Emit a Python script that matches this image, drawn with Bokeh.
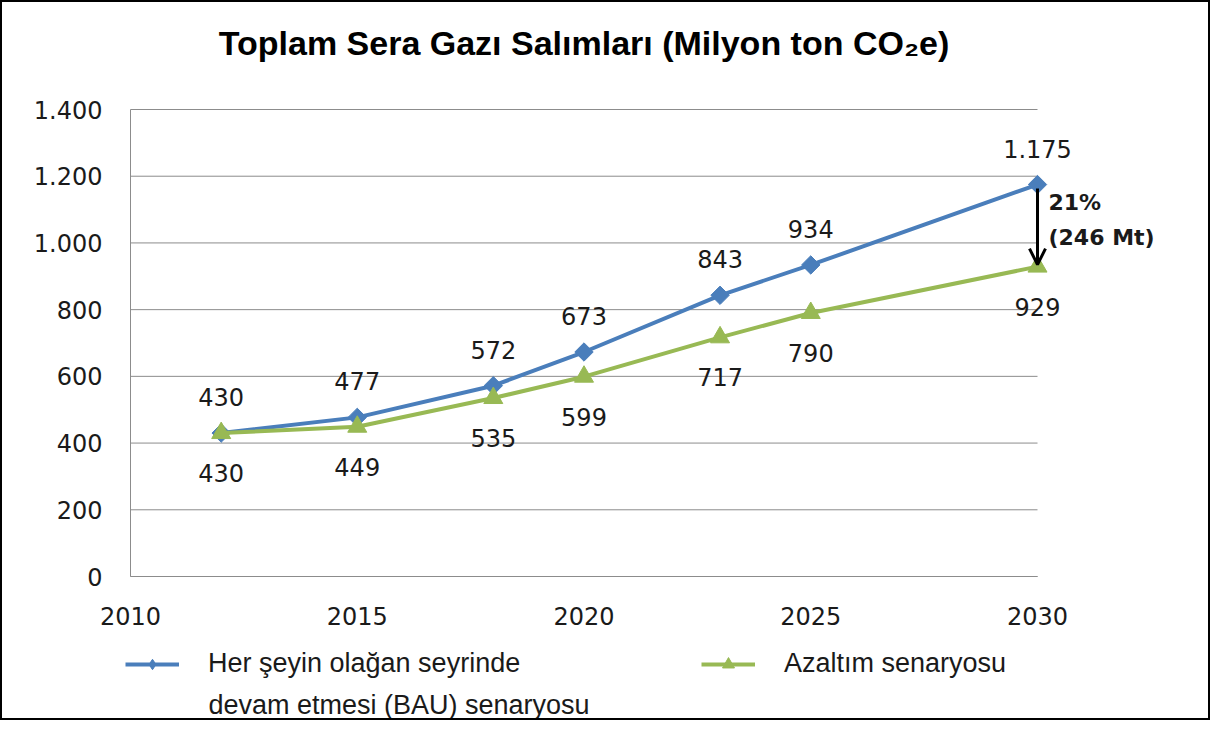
import numpy as np
from bokeh.plotting import figure
from bokeh.models import (ColumnDataSource, LabelSet, Label, Legend, LegendItem,
                          FixedTicker, Arrow, OpenHead, Range1d)
from bokeh.core.properties import value
from bokeh.embed import file_html
from bokeh.resources import INLINE

# ---- data ----
years = [2012, 2015, 2018, 2020, 2023, 2025, 2030]
bau = [430, 477, 572, 673, 843, 934, 1175]
azaltim = [430, 449, 535, 599, 717, 790, 929]
bau_labels = ["430", "477", "572", "673", "843", "934", "1.175"]
azaltim_labels = ["430", "449", "535", "599", "717", "790", "929"]
x_ticks = [2010, 2015, 2020, 2025, 2030]
x_tick_labels = ["2010", "2015", "2020", "2025", "2030"]
y_ticks = [0, 200, 400, 600, 800, 1000, 1200, 1400]
y_tick_labels = ["0", "200", "400", "600", "800", "1.000", "1.200", "1.400"]
series_names = ["Her şeyin olağan seyrinde", "devam etmesi (BAU) senaryosu", "Azaltım senaryosu"]
title_text = "Toplam Sera Gazı Salımları (Milyon ton CO₂e)"
diff_pct = "21%"
diff_mt = "(246 Mt)"

BLUE = "#4A7EBB"
GREEN = "#98B954"
GRID = "#8C8C8C"
TXT = "#1a1a1a"
NUM_FONT = "DejaVu Sans"
TXT_FONT = "Liberation Sans"

src = ColumnDataSource(dict(year=years, bau=bau, az=azaltim,
                            bau_lbl=bau_labels, az_lbl=azaltim_labels))

# The frame covers the whole canvas (so no annotation is clipped);
# the plot area proper is 2010..2030 x 0..1400, drawn with bounded axes.
W, H = 1210, 720
PX_PER_YEAR = 907 / 20.0
PX_PER_UNIT = 467 / 1400.0
PA_LEFT, PA_TOP = 128, 107          # plot area offset inside canvas
PA_RIGHT = PA_LEFT + 907
PA_BOTTOM = PA_TOP + 467
x_start = x_ticks[0] - PA_LEFT / PX_PER_YEAR
x_end = x_ticks[-1] + (W - PA_RIGHT) / PX_PER_YEAR
y_end = y_ticks[-1] + PA_TOP / PX_PER_UNIT
y_start = y_ticks[0] - (H - PA_BOTTOM) / PX_PER_UNIT

p = figure(width=W, height=H,
           x_range=Range1d(x_start, x_end),
           y_range=Range1d(y_start, y_end),
           output_backend="svg", toolbar_location=None,
           min_border=0)
p.styles = {"border": "2px solid black"}
p.background_fill_color = "white"
p.border_fill_color = "white"
p.outline_line_color = None

# axes fixed to the plot-area edges
p.xaxis.ticker = FixedTicker(ticks=x_ticks)
p.yaxis.ticker = FixedTicker(ticks=y_ticks)
p.xaxis.major_label_overrides = {t: l for t, l in zip(x_ticks, x_tick_labels)}
p.yaxis.major_label_overrides = {t: l for t, l in zip(y_ticks, y_tick_labels)}
p.xaxis.fixed_location = y_ticks[0]
p.yaxis.fixed_location = x_ticks[0]
p.xaxis.bounds = (x_ticks[0], x_ticks[-1])
p.yaxis.bounds = (y_ticks[0], y_ticks[-1])
for ax in (p.xaxis, p.yaxis):
    ax.axis_line_color = GRID
    ax.axis_line_width = 1
    ax.major_tick_line_color = None
    ax.minor_tick_line_color = None
    ax.major_tick_in = 0
    ax.major_tick_out = 0
    ax.major_label_text_font = NUM_FONT
    ax.major_label_text_font_size = "24px"
    ax.major_label_text_color = TXT
p.yaxis.major_label_standoff = 28
p.xaxis.major_label_standoff = 30
p.xgrid.visible = False
p.ygrid.visible = False

# horizontal gridlines limited to the plot area
p.segment(x0=[x_ticks[0]] * len(y_ticks), x1=[x_ticks[-1]] * len(y_ticks),
          y0=y_ticks, y1=y_ticks, line_color=GRID, line_width=1)

# title
p.add_layout(Label(x=(x_ticks[0] + x_ticks[-1]) / 2, y=y_ticks[-1], y_offset=67,
                   text=title_text, text_font=TXT_FONT, text_font_style="bold",
                   text_font_size="34px", text_align="center", text_baseline="middle",
                   text_color="black"))

# series
r1 = p.line("year", "bau", source=src, line_color=BLUE, line_width=4)
r1m = p.scatter("year", "bau", source=src, marker="square", angle=np.pi / 4,
                size=13, fill_color=BLUE, line_color=BLUE)
r2 = p.line("year", "az", source=src, line_color=GREEN, line_width=4)
r2m = p.scatter("year", "az", source=src, marker="triangle",
                size=19, fill_color=GREEN, line_color=GREEN)

# legend-only marker glyphs (no visible point)
leg_src = ColumnDataSource(dict(x=[np.nan], y=[np.nan]))
l1m = p.scatter("x", "y", source=leg_src, marker="diamond", fill_color=BLUE, line_color=BLUE)
l2m = p.scatter("x", "y", source=leg_src, marker="triangle", fill_color=GREEN, line_color=GREEN)

# data labels
p.add_layout(LabelSet(x="year", y="bau", text="bau_lbl", source=src, y_offset=36,
                      text_align="center", text_baseline="middle",
                      text_font=value(NUM_FONT), text_font_size="24px", text_color=TXT))
p.add_layout(LabelSet(x="year", y="az", text="az_lbl", source=src, y_offset=-40,
                      text_align="center", text_baseline="middle",
                      text_font=value(NUM_FONT), text_font_size="24px", text_color=TXT))

# reduction arrow
p.add_layout(Arrow(end=OpenHead(size=16, line_width=3, line_color="black"),
                   x_start=years[-1], y_start=bau[-1] - 12,
                   x_end=years[-1], y_end=azaltim[-1] + 6,
                   line_color="black", line_width=3))
p.add_layout(Label(x=years[-1], y=bau[-1], x_offset=11, y_offset=-18, text=diff_pct,
                   text_font=NUM_FONT, text_font_style="bold", text_font_size="22px",
                   text_baseline="middle", text_align="left", text_color=TXT))
p.add_layout(Label(x=years[-1], y=bau[-1], x_offset=11, y_offset=-53, text=diff_mt,
                   text_font=NUM_FONT, text_font_style="bold", text_font_size="22px",
                   text_baseline="middle", text_align="left", text_color=TXT))

# legends
def make_legend(label, rends, loc, gh):
    lg = Legend(items=[LegendItem(label=label, renderers=rends)], location=loc)
    lg.border_line_color = None
    lg.background_fill_alpha = 0
    lg.padding = 0
    lg.margin = 0
    lg.glyph_width = 54
    lg.glyph_height = gh
    lg.label_standoff = 29
    lg.label_text_font = TXT_FONT
    lg.label_text_font_size = "27px"
    lg.label_text_color = TXT
    lg.label_height = 30
    return lg

LEG_Y = H - (PA_BOTTOM + 88 + 15)   # legend bottom, measured from canvas bottom
p.add_layout(make_legend(series_names[0], [r1, l1m], (PA_LEFT - 5, LEG_Y), 26))
p.add_layout(make_legend(series_names[2], [r2, l2m], (PA_LEFT + 571, LEG_Y), 30))
p.add_layout(Label(x=x_ticks[0], y=y_ticks[0], x_offset=78, y_offset=-128,
                   text=series_names[1], text_font=TXT_FONT, text_font_size="27px",
                   text_baseline="middle", text_align="left", text_color=TXT))

open("out.html", "w").write(file_html(p, INLINE))
